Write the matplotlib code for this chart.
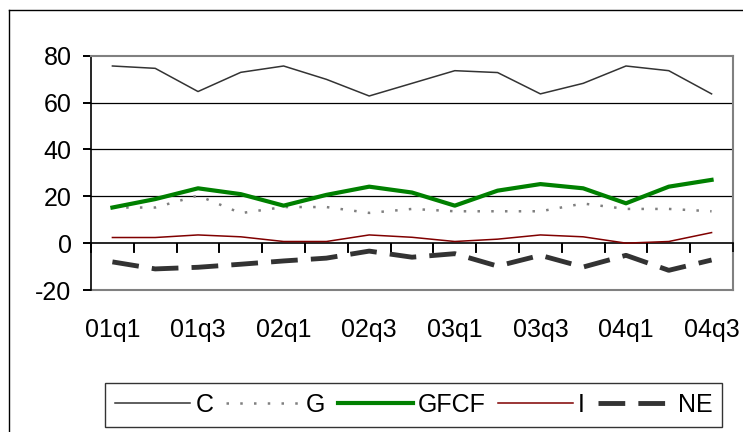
import matplotlib
matplotlib.use('Agg')  # headless
import matplotlib.pyplot as plt
import matplotlib.transforms as mtransforms
from matplotlib.lines import Line2D
import numpy as np

# quarters 01q1 .. 04q3
quarters = ['01q1', '01q2', '01q3', '01q4', '02q1', '02q2', '02q3', '02q4',
            '03q1', '03q2', '03q3', '03q4', '04q1', '04q2', '04q3']

c_vals = [75.6, 74.6, 64.7, 72.9, 75.6, 69.9, 62.8, 68.2,
          73.6, 72.8, 63.7, 68.2, 75.6, 73.6, 63.7]
g_vals = [15.2, 15.2, 20.3, 12.8, 15.4, 15.4, 12.9, 14.6,
          13.6, 13.6, 13.6, 16.9, 14.6, 14.6, 13.6]
gfcf_vals = [15.2, 18.8, 23.4, 20.9, 16.0, 20.6, 24.1, 21.6,
             16.0, 22.4, 25.2, 23.4, 17.0, 24.1, 27.0]
i_vals = [2.4, 2.4, 3.5, 2.7, 0.7, 0.7, 3.5, 2.5,
          0.7, 1.7, 3.5, 2.7, 0.0, 0.7, 4.5]
ne_vals = [-8.0, -11.0, -10.3, -9.0, -7.6, -6.4, -3.4, -6.0,
           -4.5, -9.8, -5.2, -10.2, -5.2, -11.6, -7.2]

y_ticks = [-20, 0, 20, 40, 60, 80]

plt.rcParams['font.family'] = ['Liberation Sans', 'DejaVu Sans']
plt.rcParams['axes.unicode_minus'] = False
FS = 18

fig = plt.figure(figsize=(7.43, 4.32), dpi=100)
ax = fig.add_axes([0.1225, 0.3287, 0.864, 0.5424])

x = np.arange(len(quarters))

# gridlines
for v in [20, 40, 60]:
    ax.axhline(v, color='black', lw=0.9, zorder=1)
# plot area border at the bottom
ax.axhline(-20, color='#808080', lw=1.5, zorder=1, clip_on=False)

ax.plot(x, c_vals, color='#333333', lw=1.1, label='C', zorder=3)
ax.plot(x, g_vals, color='#808080', lw=1.8, linestyle=(0, (1, 4.5)), label='G', zorder=3)
ax.plot(x, gfcf_vals, color='#008000', lw=3.0, label='GFCF', zorder=4)
ax.plot(x, i_vals, color='#800000', lw=1.1, label='I', zorder=3)
ax.plot(x, ne_vals, color='#333333', lw=3.5, linestyle=(0, (5.5, 2.7)), label='NE', zorder=3)

ax.set_xlim(-0.5, len(quarters) - 0.5)
ax.set_ylim(-20, 80)

# y axis
ax.set_yticks(y_ticks)
ax.tick_params(axis='y', left=True, length=6, width=1.3, color='black', direction='out',
               labelsize=FS, pad=8)
for side in ['top', 'right']:
    ax.spines[side].set_color('#808080')
    ax.spines[side].set_linewidth(1.5)
ax.spines['left'].set_color('black')
ax.spines['left'].set_linewidth(1.2)

# category axis crosses at zero, tick marks between quarters
ax.spines['bottom'].set_position(('data', 0))
ax.spines['bottom'].set_color('black')
ax.spines['bottom'].set_linewidth(1.2)
boundaries = np.arange(-0.5, len(quarters), 1.0)
ax.set_xticks(boundaries)
ax.tick_params(axis='x', bottom=True, length=7, width=1.3, color='black',
               direction='out', labelbottom=False)
# make sure the tick marks show: draw them as short segments as well
ax.vlines(boundaries, -3.8, 0, color='black', lw=1.2, zorder=5, clip_on=False)
ytrans = mtransforms.blended_transform_factory(ax.transAxes, ax.transData)
ax.hlines(y_ticks, -0.013, 0, transform=ytrans, color='black', lw=1.2, clip_on=False)

# category labels low, under the plot area, every second quarter
trans = mtransforms.blended_transform_factory(ax.transData, ax.transAxes)
for xi in x[::2]:
    ax.text(xi, -0.172, quarters[xi], transform=trans, ha='center', va='center',
            fontsize=FS)

# legend
leg = fig.legend(loc='center', bbox_to_anchor=(0.557, 0.063), ncol=5, fontsize=FS,
                 frameon=True, fancybox=False, edgecolor='black', handlelength=3.0,
                 handletextpad=0.2, columnspacing=0.5, borderpad=0.4)
leg.get_frame().set_linewidth(1.0)

# outer chart border (clipped on right and bottom)
fig.add_artist(Line2D([8.5 / 743, 8.5 / 743], [0, 1 - 10 / 432], color='black', lw=1.0))
fig.add_artist(Line2D([8.5 / 743, 1], [1 - 10 / 432, 1 - 10 / 432], color='black', lw=1.0))

plt.savefig('out.png', dpi=100)
plt.close(fig)
